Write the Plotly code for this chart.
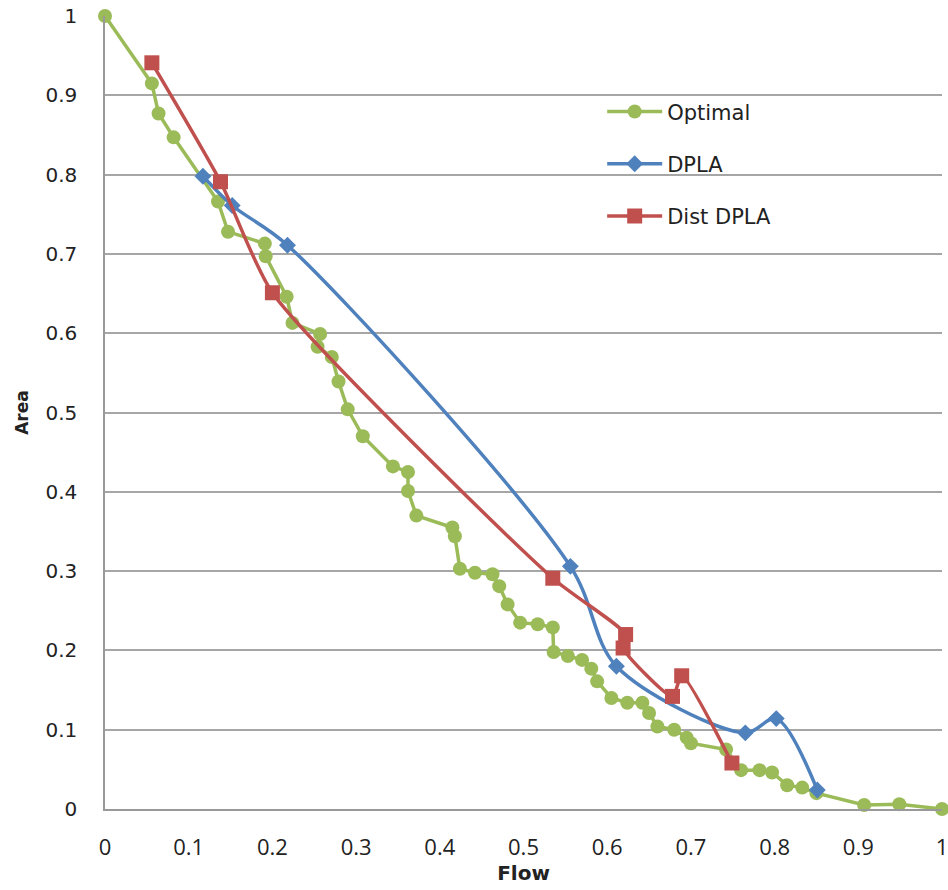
import plotly.graph_objects as go

opt_x = [0.000, 0.056, 0.064, 0.082, 0.135, 0.147, 0.191, 0.192, 0.217, 0.224,
         0.257, 0.254, 0.271, 0.279, 0.290, 0.308, 0.344, 0.362, 0.362, 0.372,
         0.415, 0.418, 0.424, 0.442, 0.463, 0.471, 0.481, 0.496, 0.517, 0.535,
         0.536, 0.553, 0.570, 0.581, 0.588, 0.605, 0.624, 0.642, 0.650, 0.660,
         0.680, 0.695, 0.700, 0.742, 0.760, 0.782, 0.797, 0.815, 0.833, 0.850,
         0.907, 0.949, 1.000]
opt_y = [1.000, 0.915, 0.877, 0.847, 0.766, 0.728, 0.713, 0.697, 0.646, 0.613,
         0.599, 0.583, 0.570, 0.539, 0.504, 0.470, 0.432, 0.425, 0.401, 0.370,
         0.355, 0.344, 0.303, 0.298, 0.296, 0.281, 0.258, 0.235, 0.233, 0.229,
         0.198, 0.193, 0.188, 0.177, 0.161, 0.140, 0.134, 0.134, 0.121, 0.104,
         0.100, 0.090, 0.083, 0.075, 0.049, 0.049, 0.046, 0.030, 0.027, 0.020,
         0.005, 0.006, 0.000]

dpla_x = [0.117, 0.152, 0.218, 0.556, 0.611, 0.765, 0.802, 0.851]
dpla_y = [0.798, 0.761, 0.711, 0.306, 0.180, 0.096, 0.114, 0.024]

dist_x = [0.056, 0.138, 0.200, 0.535, 0.622, 0.619, 0.678, 0.689, 0.749]
dist_y = [0.941, 0.791, 0.651, 0.291, 0.220, 0.203, 0.142, 0.168, 0.058]

tick_vals = [0, 0.1, 0.2, 0.3, 0.4, 0.5, 0.6, 0.7, 0.8, 0.9, 1]
tick_text = ["0", "0.1", "0.2", "0.3", "0.4", "0.5", "0.6", "0.7", "0.8", "0.9", "1"]

GREEN = "#9BBB59"
BLUE = "#4F81BD"
RED = "#C0504D"

fig = go.Figure()
fig.add_trace(go.Scatter(
    x=opt_x, y=opt_y, name="Optimal", mode="lines+markers",
    line=dict(color=GREEN, width=3.5),
    marker=dict(symbol="circle", size=14, color=GREEN),
    cliponaxis=False, legendgroup="a"))
fig.add_trace(go.Scatter(
    x=dpla_x, y=dpla_y, name="DPLA", mode="lines+markers",
    line=dict(color=BLUE, width=3.5, shape="spline", smoothing=0.9),
    marker=dict(symbol="diamond", size=13, color=BLUE),
    cliponaxis=False, legendgroup="b"))
fig.add_trace(go.Scatter(
    x=dist_x, y=dist_y, name="Dist DPLA", mode="lines+markers",
    line=dict(color=RED, width=3.5, shape="spline", smoothing=0.6),
    marker=dict(symbol="square", size=15, color=RED),
    cliponaxis=False, legendgroup="c"))

fig.update_layout(
    width=948, height=890,
    margin=dict(l=105, r=6, t=16, b=81, autoexpand=False),
    paper_bgcolor="white", plot_bgcolor="white",
    font=dict(family="DejaVu Sans", size=15, color="#222222"),
    legend=dict(x=0.594, y=0.905, xanchor="left", yanchor="top",
                font=dict(family="DejaVu Sans", size=21, color="#222222"),
                itemwidth=55, tracegroupgap=22, bgcolor="rgba(0,0,0,0)"),
    xaxis=dict(range=[0, 1], tickvals=tick_vals, ticktext=tick_text,
               showgrid=False, zeroline=False, automargin=False,
               showline=True, linecolor="#999999", linewidth=1.5,
               ticklen=0, ticklabelstandoff=18, ticklabeloverflow="allow",
               tickfont=dict(family="Open Sans", size=22, color="#222222"),
               title=dict(text="<b>Flow</b>", standoff=6,
                          font=dict(family="DejaVu Sans", size=20))),
    yaxis=dict(range=[0, 1], tickvals=tick_vals, ticktext=tick_text,
               showgrid=True, gridcolor="#A6A6A6",
               gridwidth=1.5, zeroline=False, automargin=False,
               showline=True, linecolor="#999999", linewidth=1.5,
               tickfont=dict(family="DejaVu Sans", size=20, color="#222222"),
               ticklen=0, ticklabelstandoff=22, ticklabeloverflow="allow",
               title=dict(text="<b>Area</b>", standoff=12,
                          font=dict(family="DejaVu Sans", size=17))),
)

fig.write_html("out.html", config={"displayModeBar": False},
               post_script="document.body.style.margin='0';")
